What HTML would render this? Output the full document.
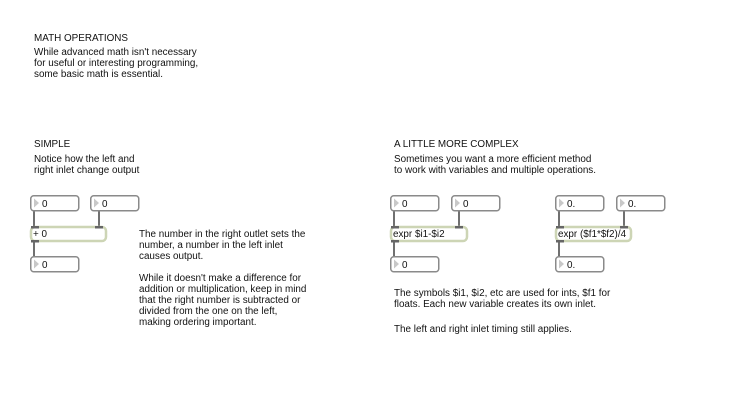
<!DOCTYPE html>
<html><head><meta charset="utf-8"><style>
html,body{margin:0;padding:0;background:#fff;}
svg{display:block;}
text{font-family:"Liberation Sans",Arial,sans-serif;font-size:9.9px;fill:#111;}
</style></head><body>
<svg width="730" height="411" viewBox="0 0 730 411" xmlns="http://www.w3.org/2000/svg">
<defs>
<g id="num"><rect x="0.75" y="0.75" width="48" height="15" rx="3" fill="#fff" stroke="#8a8a8a" stroke-width="1.5"/><path d="M4 3.5 L9 8 L4 12.5 Z" fill="#c8c8c8"/></g>
</defs>
<text x="34" y="41">MATH OPERATIONS</text>
<text x="34" y="55">While advanced math isn't necessary</text>
<text x="34" y="66">for useful or interesting programming,</text>
<text x="34" y="77">some basic math is essential.</text>

<text x="34" y="147">SIMPLE</text>
<text x="34" y="162">Notice how the left and</text>
<text x="34" y="173">right inlet change output</text>

<text x="394" y="147">A LITTLE MORE COMPLEX</text>
<text x="394" y="162">Sometimes you want a more efficient method</text>
<text x="394" y="173">to work with variables and multiple operations.</text>

<text x="139" y="237">The number in the right outlet sets the</text>
<text x="139" y="248">number, a number in the left inlet</text>
<text x="139" y="259">causes output.</text>
<text x="139" y="281">While it doesn't make a difference for</text>
<text x="139" y="292">addition or multiplication, keep in mind</text>
<text x="139" y="303">that the right number is subtracted or</text>
<text x="139" y="314">divided from the one on the left,</text>
<text x="139" y="325">making ordering important.</text>

<text x="394" y="296">The symbols $i1, $i2, etc are used for ints, $f1 for</text>
<text x="394" y="307">floats.  Each new variable creates its own inlet.</text>
<text x="394" y="332">The left and right inlet timing still applies.</text>

<g stroke="#222" stroke-width="1.3">
<line x1="34" y1="211" x2="34" y2="227"/><line x1="99" y1="211" x2="99" y2="227"/><line x1="34" y1="242" x2="34" y2="257"/>
<line x1="394" y1="211" x2="394" y2="227"/><line x1="459" y1="211" x2="459" y2="227"/><line x1="394" y1="242" x2="394" y2="257"/>
<line x1="559" y1="211" x2="559" y2="227"/><line x1="624" y1="211" x2="624" y2="227"/><line x1="559" y1="242" x2="559" y2="257"/>
</g>

<use href="#num" x="30" y="195"/><text x="42" y="207">0</text>
<use href="#num" x="90" y="195"/><text x="102" y="207">0</text>
<rect x="31" y="227" width="75" height="14" rx="4" fill="#fff" stroke="#cdd5b5" stroke-width="2.5"/>
<rect x="31" y="226" width="8" height="2.5" fill="#666"/><rect x="95" y="226" width="8" height="2.5" fill="#666"/><rect x="31" y="240" width="8" height="2.5" fill="#666"/>
<text x="33" y="237">+ 0</text>
<use href="#num" x="30" y="256"/><text x="42" y="268">0</text>

<use href="#num" x="390" y="195"/><text x="402" y="207">0</text>
<use href="#num" x="451" y="195"/><text x="463" y="207">0</text>
<rect x="391" y="227" width="76" height="14" rx="4" fill="#fff" stroke="#cdd5b5" stroke-width="2.5"/>
<rect x="391" y="226" width="8" height="2.5" fill="#666"/><rect x="455" y="226" width="8" height="2.5" fill="#666"/><rect x="391" y="240" width="8" height="2.5" fill="#666"/>
<text x="393" y="237">expr $i1-$i2</text>
<use href="#num" x="390" y="256"/><text x="402" y="268">0</text>

<use href="#num" x="555" y="195"/><text x="567" y="207">0.</text>
<use href="#num" x="616" y="195"/><text x="628" y="207">0.</text>
<rect x="556" y="227" width="75" height="14" rx="4" fill="#fff" stroke="#cdd5b5" stroke-width="2.5"/>
<rect x="556" y="226" width="8" height="2.5" fill="#666"/><rect x="620" y="226" width="8" height="2.5" fill="#666"/><rect x="556" y="240" width="8" height="2.5" fill="#666"/>
<text x="558" y="237">expr ($f1*$f2)/4</text>
<use href="#num" x="555" y="256"/><text x="567" y="268">0.</text>
</svg>
</body></html>
